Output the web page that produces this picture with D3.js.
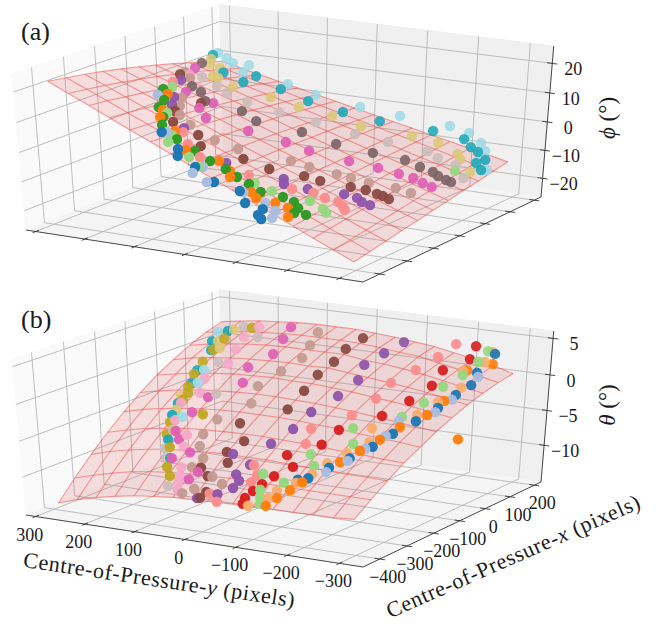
<!DOCTYPE html>
<html>
<head>
<script src="https://cdnjs.cloudflare.com/ajax/libs/d3/7.8.5/d3.min.js"></script>
<style>
  body {margin:0;background:#fff;}
  text {font-family:"Liberation Serif",serif;fill:#1a1a1a;}
</style>
</head>
<body>
<div id="scene"></div>
<script>

// D A T A

const yTicks = [300,200,100,0,-100,-200,-300]
const xTicks = [-400,-300,-200,-100,0,100,200]
const phiTicks = [20,10,0,-10,-20]
const thetaTicks = [5,0,-5,-10]

// tab20, as it reads after the red sheet tints it
const colours = ['#1f77b4','#a9bde0','#ff7f0e','#f9ad70','#2f9a25','#95d880','#d62020','#fb8d8d','#8f55ab','#c5b0d5',
  '#8a4a42','#c49a90','#df5fb5','#f5a8c8','#7d6466','#cdbcbc','#bfa820','#dcc878','#1aa8b8','#9edae5']

// fitted sheet, rows along gridY, columns along gridX
const gridY = [290,251,212,173,134,95,56,17,-22,-61,-100,-139,-178,-217,-256,-295]
const gridX = [-400,-341.8,-283.6,-225.4,-167.2,-109,-50.8,7.4,65.6,123.8,182]

const phiGrid = [
  [22,21.1,20.2,19.1,17.9,16.6,15.1,13.6,11.9,10.2,8.3],
  [18.9,18.2,17.4,16.4,15.4,14.2,12.9,11.6,10.1,8.5,6.8],
  [15.9,15.3,14.5,13.7,12.8,11.8,10.7,9.6,8.3,6.9,5.4],
  [12.8,12.3,11.7,11,10.3,9.5,8.6,7.5,6.4,5.2,3.9],
  [9.7,9.4,8.9,8.4,7.8,7.1,6.4,5.5,4.6,3.6,2.5],
  [6.7,6.4,6.1,5.8,5.3,4.8,4.2,3.5,2.8,1.9,1],
  [3.6,3.5,3.3,3.1,2.8,2.4,2.1,1.5,0.9,0.3,-0.4],
  [0.5,0.6,0.5,0.4,0.3,0.1,-0.2,-0.5,-0.9,-1.4,-1.9],
  [-2.5,-2.4,-2.3,-2.2,-2.2,-2.3,-2.4,-2.5,-2.7,-3,-3.3],
  [-5.6,-5.3,-5.1,-4.9,-4.7,-4.6,-4.6,-4.6,-4.6,-4.7,-4.8],
  [-8.7,-8.3,-7.9,-7.5,-7.2,-7,-6.8,-6.6,-6.4,-6.3,-6.2],
  [-11.7,-11.2,-10.7,-10.2,-9.8,-9.3,-8.9,-8.6,-8.3,-8,-7.7],
  [-14.8,-14.1,-13.5,-12.9,-12.3,-11.7,-11.1,-10.6,-10.1,-9.6,-9.1],
  [-17.9,-17.1,-16.3,-15.5,-14.8,-14,-13.3,-12.6,-11.9,-11.3,-10.6],
  [-20.9,-20,-19.1,-18.2,-17.3,-16.4,-15.5,-14.6,-13.8,-12.9,-12],
  [-24,-23,-21.9,-20.8,-19.8,-18.7,-17.7,-16.6,-15.6,-14.5,-13.5]]

const thetaGrid = [
  [-14.4,-11.8,-9.4,-7.2,-5.2,-3.4,-1.8,-0.5,0.7,1.7,2.4],
  [-13.5,-11,-8.6,-6.5,-4.5,-2.8,-1.3,0.1,1.2,2.1,2.8],
  [-12.8,-10.3,-8,-5.9,-4,-2.3,-0.8,0.5,1.6,2.5,3.2],
  [-12.2,-9.7,-7.5,-5.5,-3.6,-1.9,-0.5,0.8,1.9,2.7,3.4],
  [-11.7,-9.3,-7.1,-5.1,-3.3,-1.7,-0.2,1,2.1,2.9,3.6],
  [-11.4,-9,-6.9,-4.9,-3.1,-1.5,-0.1,1.1,2.2,3,3.7],
  [-11.1,-8.8,-6.7,-4.8,-3,-1.4,0,1.2,2.2,3,3.7],
  [-11,-8.7,-6.6,-4.7,-3,-1.4,-0.1,1.1,2.2,3,3.7],
  [-10.9,-8.6,-6.6,-4.7,-3,-1.5,-0.1,1.2,2.2,2.9,3.5],
  [-10.8,-8.6,-6.6,-4.8,-3.1,-1.6,-0.3,0.9,1.8,2.7,3.3],
  [-10.8,-8.6,-6.7,-4.9,-3.3,-1.8,-0.5,0.6,1.6,2.4,3],
  [-10.7,-8.7,-6.8,-5,-3.4,-2,-0.8,0.3,1.3,2.2,2.7],
  [-10.7,-8.7,-6.9,-5.2,-3.7,-2.3,-1.1,0,0.9,1.6,2.2],
  [-10.6,-8.7,-7,-5.3,-3.9,-2.6,-1.4,-0.4,0.4,1.1,1.7],
  [-10.6,-8.7,-7,-5.5,-4.1,-2.9,-1.8,-0.9,-0.1,0.6,1.1],
  [-10.4,-8.7,-7.1,-5.6,-4.4,-3.2,-2.2,-1.3,-0.6,0,0.4]]

// [colour index, [[copY, copX, angle], ...]]
const phiSeries = [
  [0,[[108,-341,7.4],[61,-368,3.9],[47,-393,2.9],[12,-396,0.2],[-31,-408,-3.3],[-69,-388,-6.2],[-95,-416,-8.4],[-121,-402,-10.4],[-127,-429,-11.1],[-137,-436,-11.9]]],
  [1,[[198,-200,12.4],[104,-330,7.1],[6,-380,-0.3],[3,-420,-0.6],[-25,-422,-2.9],[-74,-385,-6.5],[-113,-379,-9.5],[-136,-386,-11.3],[-145,-413,-12.3]]],
  [2,[[195,-172,11.8],[157,-253,10.3],[142,-288,9.6],[101,-309,6.7],[53,-356,3.3],[5,-328,-0.3],[-24,-341,-2.5],[-35,-361,-3.4],[-81,-370,-7],[-96,-380,-8.2],[-122,-361,-10],[-142,-353,-11.5],[-158,-381,-13]]],
  [4,[[211,-160,12.7],[181,-208,11.4],[167,-250,10.9],[140,-281,9.4],[123,-314,8.4],[82,-335,5.4],[44,-341,2.6],[12,-346,0.2],[-16,-342,-2],[-41,-348,-3.8],[-64,-348,-5.6],[-89,-352,-7.5],[-118,-327,-9.5],[-137,-323,-10.9],[-152,-335,-12.1],[-157,-358,-12.7],[-171,-342,-13.6]]],
  [5,[[212,-128,12.2],[147,-256,9.6],[94,-331,6.3],[82,-364,5.6],[36,-374,2.1],[11,-385,0.1],[-67,-333,-5.8],[-97,-328,-8],[-150,-290,-11.6],[-177,-293,-13.5],[-187,-300,-14.3],[-247,67,-13.3]]],
  [7,[[227,-100,12.6],[93,-296,6],[64,-330,4],[28,-352,1.4],[-47,-318,-4.2],[-112,-284,-8.7],[-139,-258,-10.4],[-159,-253,-11.9],[-179,-243,-13.1],[-191,-248,-14],[-200,-257,-14.8]]],
  [8,[[229,-69,12.1],[183,-171,11],[163,-212,10.3],[101,-279,6.5],[-5,-321,-1],[-85,-265,-6.7],[-95,-282,-7.5],[-126,-254,-9.6],[-171,-206,-12.2],[-191,-196,-13.4],[-203,-201,-14.3],[-217,-197,-15.2]]],
  [10,[[249,-38,12.5],[150,-136,8.5],[147,-230,9.3],[122,-279,8.1],[75,-276,4.7],[50,-311,2.9],[-11,-273,-1.4],[-53,-258,-4.4],[-98,-216,-7.4],[-123,-204,-8.9],[-164,-169,-11.4],[-185,-153,-12.6],[-204,-147,-13.7],[-214,-144,-14.3],[-226,-144,-15.1]]],
  [11,[[254,-12,12.2],[231,-34,11.5],[176,-157,10.4],[156,-198,9.6],[134,-236,8.5],[103,-254,6.6],[52,-260,2.9],[14,-247,0.3],[-56,-187,-4.4],[-85,-174,-6.3],[-125,-148,-8.8],[-147,-137,-10],[-175,-123,-11.6],[-213,-94,-13.6],[-239,-86,-15]]],
  [12,[[266,43,11.4],[190,-119,10.7],[142,-108,7.6],[138,-163,8.1],[109,-191,6.4],[46,-155,2.1],[-10,-122,-1.6],[-51,-113,-4],[-111,-77,-7.5],[-155,-51,-9.8],[-189,-37,-11.6],[-213,-28,-12.8],[-233,-30,-14],[-251,-30,-14.9]]],
  [13,[[242,-17,11.6]]],
  [14,[[286,101,10.7],[204,-74,10.7],[181,-83,9.6],[153,-117,8.4],[101,-80,4.8],[64,-95,2.8],[-1,-48,-1.2],[-56,-23,-5],[-115,4,-7.7],[-167,28,-9.9],[-198,26,-11.5],[-223,28,-12.7],[-237,21,-13.5],[-254,19,-14.4],[-264,19,-14.9]]],
  [15,[[229,4,10.5],[191,-10,8.8],[163,-24,7.5],[122,-24,5.4],[70,-2,2.3],[12,27,-0.9],[-55,49,-4.3],[-108,74,-6.8],[-173,104,-9.6],[-200,91,-10.9],[-236,92,-12.5],[-271,53,-14.7]]],
  [17,[[305,167,9.4],[279,118,9.9],[258,117,9],[228,40,9.6],[218,41,9.1],[178,24,7.5],[121,59,4.1],[69,68,1.5],[14,91,-1.2],[-41,98,-3.7],[-120,144,-7.1],[-167,156,-8.9],[-215,140,-11],[-229,123,-11.8],[-267,87,-14]]],
  [18,[[331,218,8.5],[239,96,8.6],[190,82,6.9],[208,160,5.8],[142,133,3.7],[80,122,1.3],[16,135,-1.5],[-46,160,-4.2],[-132,204,-7.3],[-189,216,-9.3],[-216,190,-10.5],[-236,179,-11.3],[-262,157,-12.6],[-257,131,-12.8],[-277,111,-14]]],
  [19,[[349,268,7.1],[313,237,7.1],[281,204,7.2],[232,154,6.9],[267,238,5.6],[157,186,3.2],[95,178,1.1],[15,199,-2.1],[-53,225,-4.6],[-139,257,-7.4],[-181,252,-8.7],[-220,223,-10.2],[-243,194,-11.4],[-284,120,-14.2]]]]

const thetaSeries = [
  [0,[[-233,234,1.8],[-249,132,0.8],[-264,81,0],[-261,29,-0.6],[-258,-32,-1.5],[-247,-92,-2.5],[-232,-147,-3.5],[-220,-197,-4.6],[-199,-240,-5.7],[-179,-276,-6.6],[-158,-311,-7.7],[-143,-320,-7.9]]],
  [1,[[-258,119,0.5],[-264,8,-0.9],[-261,-48,-1.8],[-221,-105,-2.5],[-224,-158,-3.7],[-211,-207,-4.8],[-200,-249,-5.9],[-180,-288,-7]]],
  [2,[[-251,189,1.2],[-230,131,1],[-255,-3,-1],[-254,-64,-2],[-232,-122,-3],[-221,-173,-4],[-205,-215,-5],[-189,-255,-6.1],[-153,-323,-8.1],[-143,-347,-8.9],[-131,-371,-9.7],[-122,-394,-10.5],[-340,-115,-3.7]]],
  [3,[[-226,239,1.9],[-237,186,1.4],[-227,122,1],[-256,59,-0.1],[-248,-13,-1.1],[-239,-72,-2],[-190,-144,-3.2],[-207,-185,-4.3],[-187,-228,-5.3],[-169,-264,-6.3],[-159,-299,-7.3],[-144,-328,-8.2],[-122,-355,-9.1],[-115,-374,-9.8],[-91,-400,-10.7]]],
  [5,[[-218,236,2],[-229,176,1.5],[-234,107,0.7],[-229,43,0],[-229,-29,-1.1],[-219,-90,-2.2],[-160,-156,-3.3],[-184,-200,-4.5],[-129,-249,-5.7],[-151,-278,-6.6],[-75,-319,-7.8],[-123,-333,-8.3],[-91,-358,-9.2],[-100,-375,-9.8],[-109,-391,-10.4]]],
  [6,[[-192,240,2.4],[-212,177,1.7],[-197,103,1.1],[-211,35,0.1],[-204,-35,-1],[-187,-102,-2.2],[-140,-170,-3.5],[-134,-220,-4.8],[-90,-262,-6],[-117,-290,-6.9],[-97,-320,-7.9],[-87,-344,-8.7],[-80,-363,-9.4],[-75,-382,-10.1],[-79,-397,-10.6]]],
  [7,[[-162,221,2.7],[-165,146,2],[-159,74,1.2],[-146,7,0.3],[-150,-55,-0.9],[-138,-120,-2.3],[-93,-183,-3.6],[-106,-225,-4.9],[-47,-301,-7.2],[-66,-324,-8],[-65,-343,-8.7],[-7,-384,-10.2],[-30,-400,-10.8]]],
  [8,[[-85,170,3],[-79,107,2.3],[-72,47,1.5],[-90,-9,0.4],[-85,-72,-0.9],[-67,-135,-2.3],[-63,-192,-3.8],[-47,-241,-5.2],[5,-281,-6.5],[-40,-302,-7.2],[-28,-329,-8.2],[-42,-344,-8.7],[-41,-363,-9.4],[-20,-380,-10.2],[11,-396,-10.8]]],
  [10,[[-14,150,3.2],[-11,92,2.5],[-18,36,1.6],[-16,-19,0.6],[-21,-77,-0.7],[-23,-139,-2.3],[4,-244,-5.3],[38,-198,-3.9],[19,-278,-6.4],[2,-305,-7.3],[44,-324,-8.1],[20,-343,-8.7],[2,-380,-10.1],[6,-395,-10.7]]],
  [11,[[74,146,3.3],[57,86,2.5],[43,32,1.6],[54,-24,0.5],[67,-83,-0.8],[50,-137,-2.2],[86,-193,-3.9],[89,-237,-5.3],[77,-270,-6.3],[54,-299,-7.3],[62,-324,-8.2],[11,-343,-8.7],[-16,-357,-9.2],[45,-388,-10.6],[28,-376,-10]]],
  [12,[[135,158,3.3],[118,99,2.6],[102,34,1.6],[121,-22,0.4],[100,-78,-0.7],[140,-130,-2.3],[145,-178,-3.7],[144,-237,-5.4],[127,-255,-6.1],[87,-287,-7],[113,-305,-7.8],[44,-335,-8.5],[51,-354,-9.3]]],
  [13,[[195,149,2.9],[197,98,2.2],[185,48,1.3],[165,-15,0.4],[182,-68,-1],[163,-118,-2.1],[183,-151,-3.2],[165,-202,-4.6],[118,-243,-5.6],[106,-275,-6.6],[82,-326,-8.4],[73,-346,-9.1],[66,-365,-9.8],[57,-382,-10.4]]],
  [15,[[225,148,2.7],[170,100,2.4],[189,-9,0.3],[130,-119,-1.9],[141,-280,-7.1],[122,-306,-7.8],[81,-374,-10.2],[153,-231,-5.4]]],
  [16,[[206,143,2.8],[232,89,1.8],[227,40,1],[220,-9,0.1],[212,-54,-0.9],[198,-99,-1.9],[187,-119,-2.3],[184,-142,-2.9],[121,-182,-3.7],[172,-208,-4.9],[159,-242,-5.9],[133,-277,-6.9],[109,-328,-8.6],[91,-350,-9.3]]],
  [17,[[237,133,2.4],[240,80,1.5],[218,48,1.2],[196,-129,-2.7],[180,-172,-3.8],[149,-231,-5.4]]],
  [18,[[247,128,2.2],[252,80,1.4],[231,40,0.9],[214,-39,-0.6],[198,-86,-1.6],[189,-151,-3.3],[180,-187,-4.3],[116,-305,-7.8],[147,-258,-6.3]]],
  [19,[[265,124,2],[200,-39,-0.4],[186,-86,-1.4],[155,-193,-4.2]]]]


// C A M E R A

// floor corners, one top corner and the vertical vanishing point
const A=[26,230],B=[363,282],C=[541,197],D=[223,152],topA=[12,74],vp=[290,3172]
const dx1=B[0]-C[0],dx2=D[0]-C[0],sx=A[0]-B[0]+C[0]-D[0]
const dy1=B[1]-C[1],dy2=D[1]-C[1],sy=A[1]-B[1]+C[1]-D[1]
const den=dx1*dy2-dx2*dy1
const g=(sx*dy2-dx2*sy)/den, h=(dx1*sy-sx*dy1)/den
const a=B[0]-A[0]+g*B[0], b=D[0]-A[0]+h*D[0]
const d=B[1]-A[1]+g*B[1], e=D[1]-A[1]+h*D[1]
const k=(topA[1]-A[1])/(vp[1]-topA[1])

function depth(u,v,w) {return g*u+h*v+k*w+1}
function project(u,v,w) {
  let W=depth(u,v,w)
  return [(a*u+b*v+k*vp[0]*w+A[0])/W,(d*u+e*v+k*vp[1]*w+A[1])/W]
}

const yScale=d3.scaleLinear().domain([320,-345]).range([0,1])
const xScale=d3.scaleLinear().domain([-460,228]).range([0,1])
const fade=d3.scaleLinear().domain([depth(1,0,0),depth(0,1,0)]).range([1,.78]).clamp(true)
const fmt=t=>t<0 ? '\u2212'+(-t) : ''+t


// R E N D E R

const svg=d3.select('#scene').append('svg').attr('width',664).attr('height',624)
const line=d3.line()

function panel(top,zDomain,zTicks,grid,series,label,labelY,zLabel,showLabels) {
  const zScale=d3.scaleLinear().domain(zDomain).range([0,1])
  const p=svg.append('g').attr('transform',`translate(0,${top})`)

  const pane=(pts,fill)=>p.append('path').attr('d',line(pts)+'Z').attr('fill',fill).attr('stroke',fill)
  pane([project(0,0,0),project(0,1,0),project(0,1,1),project(0,0,1)],'#fafafa')
  pane([project(0,1,0),project(1,1,0),project(1,1,1),project(0,1,1)],'#f0f0f0')
  pane([project(0,0,0),project(1,0,0),project(1,1,0),project(0,1,0)],'#f5f5f5')

  const rule=pts=>p.append('path').attr('d',line(pts)).attr('fill','none').attr('stroke','#b8b8b8').attr('stroke-width',.9)
  yTicks.forEach(t=>{let u=yScale(t);rule([project(u,0,0),project(u,1,0),project(u,1,1)])})
  xTicks.forEach(t=>{let v=xScale(t);rule([project(1,v,0),project(0,v,0),project(0,v,1)])})
  zTicks.forEach(t=>{let w=zScale(t);rule([project(0,0,w),project(0,1,w),project(1,1,w)])})

  const axis=pts=>p.append('path').attr('d',line(pts)).attr('fill','none').attr('stroke','#333').attr('stroke-width',.9)
  axis([project(0,0,0),project(1,0,0),project(1,1,0),project(1,1,1)])
  yTicks.forEach(t=>{let u=yScale(t);axis([project(u,-.015,0),project(u,.015,0)])})
  xTicks.forEach(t=>{let v=xScale(t);axis([project(.985,v,0),project(1.015,v,0)])})
  zTicks.forEach(t=>{let w=zScale(t);axis([project(.985,1,w),project(1.015,1,w)])})

  const tick=(q,dx,dy,t)=>p.append('text').attr('x',q[0]+dx).attr('y',q[1]+dy)
    .attr('text-anchor','middle').attr('font-size',18).text(fmt(t))
  zTicks.forEach(t=>tick(project(1,1,zScale(t)),21,12,t))
  if (showLabels) {
    yTicks.forEach(t=>tick(project(yScale(t),0,0),-6,24,t))
    xTicks.forEach(t=>tick(project(1,xScale(t),0),8,24,t))
  }

  // sheet and wireframe
  const sheet=grid.map((row,i)=>row.map((z,j)=>project(yScale(gridY[i]),xScale(gridX[j]),zScale(z))))
  const last=gridX.length-1, outline=[...sheet[0],...sheet.map(r=>r[last]),...sheet[sheet.length-1].slice().reverse(),...sheet.map(r=>r[0]).reverse()]
  p.append('path').attr('d',line(outline)+'Z').attr('fill','#dc3c3c').attr('fill-opacity',.15)
  const wire=l=>p.append('path').attr('d',line(l)).attr('fill','none').attr('stroke','#f04545').attr('stroke-opacity',.5).attr('stroke-width',1.1)
  sheet.forEach(wire)
  gridX.forEach((_,j)=>wire(sheet.map(r=>r[j])))

  // far points first
  const dots=series.flatMap(([c,pts])=>pts.map(([y,x,z])=>({c,y,x,z,W:depth(yScale(y),xScale(x),zScale(z))})))
  dots.sort((m,n)=>n.W-m.W)
  p.append('g').selectAll('circle').data(dots).enter().append('circle')
    .attr('cx',o=>project(yScale(o.y),xScale(o.x),zScale(o.z))[0])
    .attr('cy',o=>project(yScale(o.y),xScale(o.x),zScale(o.z))[1])
    .attr('r',5.2)
    .attr('fill',o=>colours[o.c])
    .attr('fill-opacity',o=>fade(o.W))

  p.append('text').attr('x',21).attr('y',labelY).attr('font-size',26).text(label)
  p.append('text').attr('transform',`translate(615,${top==0?118:120}) rotate(-90)`)
    .attr('text-anchor','middle').attr('font-size',23).html(zLabel)
}

panel(0,[-26.8,25.8],phiTicks,phiGrid,phiSeries,'(a)',40,'<tspan font-style="italic">\u03d5</tspan> (\u00b0)',false)
panel(285,[-15.4,6],thetaTicks,thetaGrid,thetaSeries,'(b)',43,'<tspan font-style="italic">\u03b8</tspan> (\u00b0)',true)

svg.append('text').attr('transform','translate(158,587) rotate(8.5)').attr('text-anchor','middle')
  .attr('font-size',22).attr('textLength',274).html('Centre-of-Pressure-<tspan font-style="italic">y</tspan> (pixels)')
svg.append('text').attr('transform','translate(516,563) rotate(-23.8)').attr('text-anchor','middle')
  .attr('font-size',22).attr('textLength',275).html('Centre-of-Pressure-<tspan font-style="italic">x</tspan> (pixels)')

</script>
</body>
</html>
